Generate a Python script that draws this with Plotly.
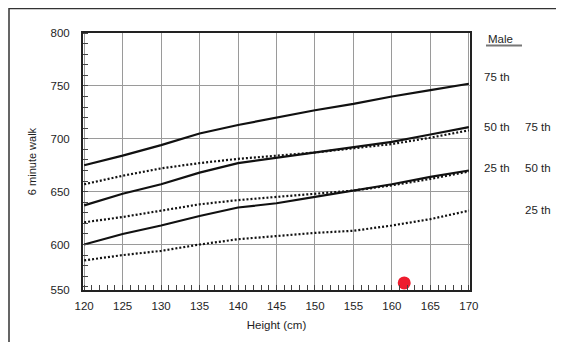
import plotly.graph_objects as go

# ---- data ----
heights = [120, 125, 130, 135, 140, 145, 150, 155, 160, 165, 170]

male_p75 = [675, 684, 694, 705, 713, 720, 727, 733, 740, 746, 752]
male_p50 = [637, 648, 657, 668, 677, 682, 687, 692, 697, 704, 711]
male_p25 = [600, 610, 618, 627, 635, 639, 645, 651, 657, 664, 670]

dot_p75 = [657, 665, 672, 677, 681, 684, 687, 691, 695, 701, 708]
dot_p50 = [621, 626, 632, 638, 642, 645, 648, 651, 656, 662, 669]
dot_p25 = [585, 590, 594, 600, 605, 608, 611, 613, 618, 624, 632]

patient_height = [161.6]
patient_walk = [563.7]

x_ticks = [120, 125, 130, 135, 140, 145, 150, 155, 160, 165, 170]
y_ticks = [550, 600, 650, 700, 750, 800]
y_tick_labels = ["550", "600", "650", "700", "750", "800"]

col1_labels = ["75 th", "50 th", "25 th"]
col1_y = [758, 711, 672]
col2_labels = ["75 th", "50 th", "25 th"]
col2_y = [711, 672, 633]

X_RANGE = [119.85, 170.15]
Y_RANGE = [557, 800]

FONT = "Liberation Sans, Arial, sans-serif"
INK = "#1e1e1e"

fig = go.Figure()

for ys in (male_p75, male_p50, male_p25):
    fig.add_trace(go.Scatter(x=heights, y=ys, mode="lines",
                             line=dict(color="#111111", width=2.2),
                             showlegend=False, hoverinfo="skip"))
for ys in (dot_p75, dot_p50, dot_p25):
    fig.add_trace(go.Scatter(x=heights, y=ys, mode="lines",
                             line=dict(color="#111111", width=2.2, dash="2px,2px"),
                             showlegend=False, hoverinfo="skip"))

fig.add_trace(go.Scatter(x=patient_height, y=patient_walk, mode="markers",
                         marker=dict(color="#ee1c2e", size=13),
                         showlegend=False, cliponaxis=False))

# the bottom "550" label sits on the axis line, as in the reference
y_tickvals = [Y_RANGE[0]] + y_ticks[1:]

fig.update_xaxes(range=X_RANGE, tickvals=x_ticks, ticks="",
                 showgrid=True, gridcolor="#9a9a9a", gridwidth=1.3,
                 showline=True, linecolor="#222", linewidth=2, mirror=True,
                 zeroline=False, ticklabelstandoff=4,
                 tickfont=dict(family=FONT, size=11.5, color=INK),
                 title=dict(text="Height (cm)", font=dict(family=FONT, size=11.5, color=INK), standoff=10),
                 minor=dict(ticks="inside", ticklen=5, tickcolor="#444", tick0=120, dtick=1, showgrid=False))
fig.update_yaxes(range=Y_RANGE, tickvals=y_tickvals, ticktext=y_tick_labels, ticks="",
                 showgrid=True, gridcolor="#9a9a9a", gridwidth=1.3,
                 showline=True, linecolor="#222", linewidth=2, mirror=True,
                 zeroline=False, ticklabelstandoff=9,
                 tickfont=dict(family=FONT, size=11.5, color=INK),
                 title=dict(text="6 minute walk", font=dict(family=FONT, size=11, color=INK), standoff=12),
                 minor=dict(ticks="inside", ticklen=5, tickcolor="#444", tick0=550, dtick=10, showgrid=False))

# page body has an 8px margin; figure coordinates = window coordinates - 8
OFF = 8
W, H = 556, 334
L, R, T, B = 75, 94, 25, 52
pw, ph = W - L - R, H - T - B

def px(xw):
    return (xw - OFF - L) / pw

def py(yw):
    return (H - B - (yw - OFF)) / ph

annotations = []
for txt, yv in zip(col1_labels, col1_y):
    annotations.append(dict(x=px(482), y=yv, xref="paper", yref="y", text=txt,
                            showarrow=False, xanchor="left", yanchor="middle",
                            font=dict(family=FONT, size=11.5, color=INK)))
for txt, yv in zip(col2_labels, col2_y):
    annotations.append(dict(x=px(523), y=yv, xref="paper", yref="y", text=txt,
                            showarrow=False, xanchor="left", yanchor="middle",
                            font=dict(family=FONT, size=11.5, color=INK)))
annotations.append(dict(x=px(486), y=py(39), xref="paper", yref="paper", text="Male",
                        showarrow=False, xanchor="left", yanchor="middle",
                        font=dict(family=FONT, size=11.5, color=INK)))

shapes = [
    dict(type="rect", xref="paper", yref="paper", x0=px(9), x1=px(600), y0=py(8.5), y1=py(400),
         line=dict(color="#333", width=1.5), fillcolor="rgba(0,0,0,0)", layer="below"),
    dict(type="line", xref="paper", yref="paper", x0=px(486), x1=px(522), y0=py(45.5), y1=py(45.5),
         line=dict(color="#777", width=2)),
]

fig.update_layout(width=W, height=H, margin=dict(l=L, r=R, t=T, b=B),
                  paper_bgcolor="white", plot_bgcolor="white",
                  annotations=annotations, shapes=shapes,
                  font=dict(family=FONT, color=INK))

fig.write_html("out.html")
